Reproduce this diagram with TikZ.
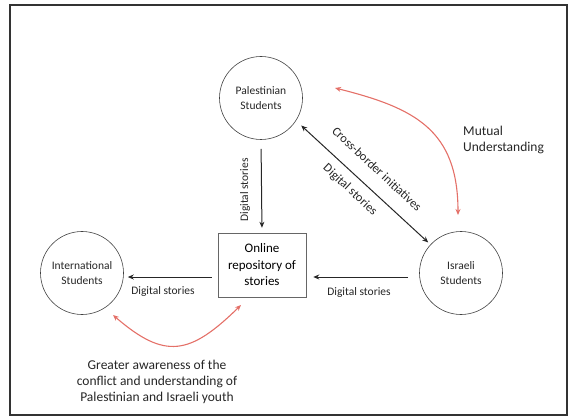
\documentclass[tikz,border=0pt]{standalone}
\usepackage{fontspec}
\setmainfont{Carlito}
\usetikzlibrary{arrows.meta}
\definecolor{redarr}{RGB}{228,112,104}
\begin{document}
\begin{tikzpicture}[x=1pt,y=-1pt,
  stud/.style={circle, draw=black!75, line width=0.6pt, minimum size=83pt, inner sep=0pt, align=center, text=black!85, font=\fontsize{11.5}{14.5}\selectfont},
  repo/.style={rectangle, draw=black!60, line width=0.5pt, minimum width=88pt, minimum height=64pt, inner sep=0pt, align=center, font=\fontsize{13}{16.5}\selectfont},
  arr/.style={-{Stealth[length=6pt,width=5pt]}, line width=1pt, draw=black!85},
  darr/.style={{Stealth[length=6pt,width=5pt]}-{Stealth[length=6pt,width=5pt]}, line width=1pt, draw=black!85},
  lbl/.style={font=\fontsize{11.5}{14}\selectfont, inner sep=0pt, text=black!85},
  dlbl/.style={font=\fontsize{12.5}{15}\selectfont, inner sep=0pt, text=black!85},
  rarr/.style={{Stealth[length=6pt,width=5pt]}-{Stealth[length=6pt,width=5pt]}, draw=redarr, line width=1.1pt},
  note/.style={font=\fontsize{13.5}{16}\selectfont, inner sep=0pt, text=black!85}]
\useasboundingbox (0,0) rectangle (569,419);
\draw[line width=1.5pt, black!80] (10,5) rectangle (567,415);

\node[stud] (pal) at (261,98) {Palestinian\\Students};
\node[stud] (isr) at (461,273) {Israeli\\Students};
\node[stud] (intl) at (82,273) {International\\Students};
\node[repo] (box) at (262,265) {Online\\repository of\\stories};

% connectors
\draw[arr, shorten <=9pt, shorten >=5pt] (pal.south) -- (box.north);
\draw[arr, shorten <=6pt, shorten >=4pt] ([yshift=-12pt]box.west) -- ([yshift=-4pt]intl.east);
\draw[arr, shorten <=11pt, shorten >=7pt] ([yshift=-4pt]isr.west) -- ([yshift=-12pt]box.east);
\draw[darr, shorten <=7pt, shorten >=3pt] (pal.-33) -- (isr.137);

% labels
\node[lbl, rotate=90] (l1) at (245,190) {Digital stories};
\node[lbl] (l2) at (163,291) {Digital stories};
\node[lbl] (l3) at (359,292) {Digital stories};
\node[dlbl, rotate=-43] (l4) at (377,169) {Cross-border initiatives};
\node[dlbl, rotate=-43] (l5) at (350,190) {Digital stories};

% red arrows
\coordinate (mu1) at (335,88);
\coordinate (mu2) at (458,215);
\draw[rarr] (mu1) .. controls (415,108) and (458,130) .. (mu2);
\node[note, anchor=west, align=left] (mu) at (463,140) {Mutual\\Understanding};

\coordinate (ib1) at (113,315);
\coordinate (ib2) at (241,305);
\draw[rarr] (ib1) .. controls (165,360) and (190,355) .. (ib2);
\node[note, align=center] (aw) at (157,382) {Greater awareness of the\\conflict and understanding of\\Palestinian and Israeli youth};
\end{tikzpicture}
\end{document}
